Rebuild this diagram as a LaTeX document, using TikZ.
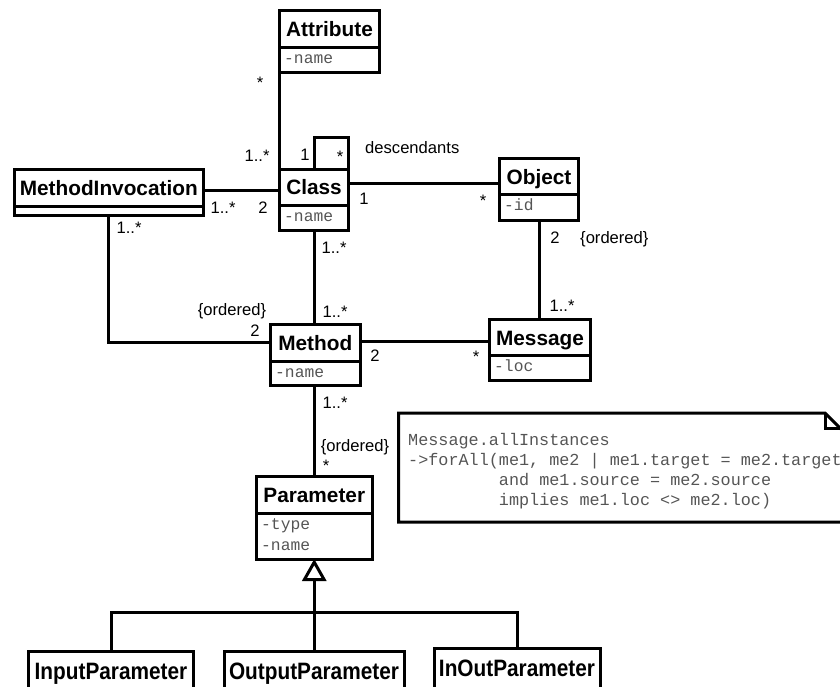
\documentclass[tikz,border=0pt]{standalone}
\usepackage{fontspec}
\setmainfont{Liberation Sans}
\setmonofont{Liberation Mono}
\usetikzlibrary{arrows.meta}
\definecolor{attrgray}{RGB}{85,85,85}
\newcommand\namefont{\fontsize{20.8}{24}\selectfont\bfseries}
\newcommand\lblfont{\fontsize{16.6}{20}\selectfont}
\newcommand\attrfont{\fontsize{16.3}{20}\selectfont\ttfamily}
\newcommand\notefont{\fontsize{16.8}{20}\selectfont\ttfamily}
\tikzset{
  hdr/.style={draw, line width=3pt, anchor=north west, inner sep=0pt, outer sep=0pt,
    font=\namefont, text height=15pt, text depth=0pt},
  leaf/.style={hdr, text height=13pt, minimum height=42pt},
  cmp/.style={draw, line width=3pt, anchor=north west, inner sep=0pt, outer sep=0pt},
  attr/.style={anchor=base west, inner sep=0pt, font=\attrfont, text=attrgray},
  notetext/.style={anchor=base west, inner sep=0pt, font=\notefont, text=attrgray},
  lbl/.style={anchor=base, inner sep=0pt, font=\lblfont},
  lblw/.style={anchor=base west, inner sep=0pt, font=\lblfont},
  conn/.style={line width=3pt},
}
\begin{document}
\begin{tikzpicture}[x=1pt, y=-1pt]
\useasboundingbox (0,0) rectangle (840,686);
\clip (0,0) rectangle (840,686);

% ---- classes: name compartment + attribute compartment ----
\node[hdr, minimum width=100pt, minimum height=36.5pt] (attr) at (279.5,10.5) {Attribute};
\node[cmp, minimum width=100pt, minimum height=25.5pt] (attr-a) at (attr.south west) {};
\node[attr] (attr-1) at (284,63.5) {-name};

\node[hdr, minimum width=69pt, minimum height=35.5pt] (cls) at (279.5,169.5) {Class};
\node[cmp, minimum width=69pt, minimum height=25.5pt] (cls-a) at (cls.south west) {};
\node[attr] (cls-1) at (284,221.5) {-name};

\node[hdr, minimum width=188.5pt, minimum height=37pt] (mi) at (14.5,169.5) {MethodInvocation};
\node[cmp, minimum width=188.5pt, minimum height=8.5pt] (mi-a) at (mi.south west) {};

\node[hdr, minimum width=79pt, minimum height=36pt] (obj) at (499.5,158.5) {Object};
\node[cmp, minimum width=79pt, minimum height=26pt] (obj-a) at (obj.south west) {};
\node[attr] (obj-1) at (504,210.5) {-id};

\node[hdr, minimum width=101pt, minimum height=36pt] (msg) at (489.5,319.5) {Message};
\node[cmp, minimum width=101pt, minimum height=25pt] (msg-a) at (msg.south west) {};
\node[attr] (msg-1) at (494,371.5) {-loc};

\node[hdr, minimum width=89.5pt, minimum height=36.5pt] (mth) at (270.5,324.5) {Method};
\node[cmp, minimum width=89.5pt, minimum height=24.5pt] (mth-a) at (mth.south west) {};
\node[attr] (mth-1) at (275,377.5) {-name};

\node[hdr, minimum width=115.5pt, minimum height=36.5pt] (par) at (256.5,476.5) {Parameter};
\node[cmp, minimum width=115.5pt, minimum height=46pt] (par-a) at (par.south west) {};
\node[attr] (par-1) at (261,529.5) {-type};
\node[attr] (par-2) at (261,550.5) {-name};

% ---- subclasses of Parameter ----
\node[leaf, minimum width=165pt] (inp) at (28.5,651.5) {\scalebox{1}[1.14]{InputParameter}};
\node[leaf, minimum width=180pt] (outp) at (224,651.5) {\scalebox{1}[1.14]{OutputParameter}};
\node[leaf, minimum width=166pt] (inout) at (434,648.5) {\scalebox{1}[1.14]{InOutParameter}};

% ---- associations ----
\draw[conn] (attr-a.south west) -- (cls.north west);
\draw[conn] (cls.north) -- ++(0,-32) -| (cls.north east);
\draw[conn] ([yshift=-2pt]mi.east) -- ([yshift=-2pt]mi.east -| cls.west);
\draw[conn] ([yshift=-6.5pt]obj.west) -- ([yshift=-6.5pt]obj.west -| cls.east);
\draw[conn] (obj-a.south) -- (obj-a.south |- msg.north);
\draw[conn] ([yshift=1.75pt]mth.east) -- ([yshift=1.75pt]mth.east -| msg.west);
\draw[conn] (cls-a.south) -- (cls-a.south |- mth.north);
\draw[conn] (mi-a.south) |- (mth.west);
\draw[conn] (par.north) -- (par.north |- mth-a.south);

% ---- generalization ----
\coordinate (fork) at (314.25,612);
\draw[conn, -{Triangle[open, length=22pt, width=24pt]}] (fork) -- (par-a.south);
\draw[conn] (inp.north) |- (fork) -| (inout.north);
\draw[conn] (outp.north) -- (outp.north |- fork);

% ---- multiplicities and role names ----
\node[lbl] (m1) at (260,88) {*};
\node[lbl] (m2) at (257,161) {1..*};
\node[lbl] (m3) at (305,160) {1};
\node[lbl] (m4) at (340,162) {*};
\node[lblw] (r1) at (365,153) {descendants};
\node[lbl] (m5) at (223,213) {1..*};
\node[lbl] (m6) at (263,213) {2};
\node[lbl] (m7) at (364,204) {1};
\node[lbl] (m8) at (483,206) {*};
\node[lbl] (m9) at (555,243) {2};
\node[lblw] (o1) at (580,243) {\{ordered\}};
\node[lbl] (m10) at (562,311) {1..*};
\node[lbl] (m11) at (129,233) {1..*};
\node[lbl] (o2) at (232,315) {\{ordered\}};
\node[lbl] (m12) at (255,336) {2};
\node[lbl] (m13) at (334,253) {1..*};
\node[lbl] (m14) at (335,317) {1..*};
\node[lbl] (m15) at (375,361) {2};
\node[lbl] (m16) at (476,362) {*};
\node[lbl] (m17) at (335,408) {1..*};
\node[lbl] (o3) at (355,451) {\{ordered\}};
\node[lbl] (m18) at (326,471) {*};

% ---- OCL constraint note ----
\draw[conn] (398.5,413) -- (825,413) -- (841.5,429.5) -- (841.5,522) -- (398.5,522) -- cycle;
\draw[conn] (825,413) |- (841.5,428.5);
\node[notetext] (n1) at (408,445.5) {Message.allInstances};
\node[notetext] (n2) at (408,465.5) {->forAll(me1, me2 | me1.target = me2.target};
\node[notetext] (n3) at (408,485.5) {\phantom{->forAll(}and me1.source = me2.source};
\node[notetext] (n4) at (408,505.5) {\phantom{->forAll(}implies me1.loc <> me2.loc)};
\end{tikzpicture}
\end{document}
